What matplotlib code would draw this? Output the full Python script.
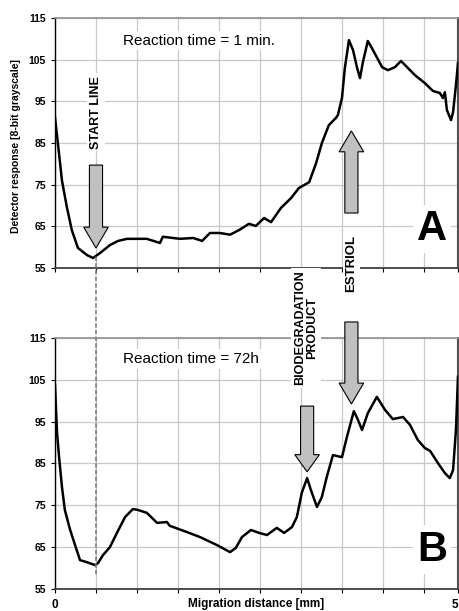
import numpy as np
import matplotlib
matplotlib.use('Agg')
import matplotlib.pyplot as plt
from matplotlib.patches import FancyArrow, ConnectionPatch

plt.rcParams['font.family'] = ['Liberation Sans', 'DejaVu Sans']

# scan position along lane (0 .. 983 points = 0 .. 5 mm)
xA = [0, 7, 17, 29, 41, 56, 78, 93, 110, 134, 154, 176, 224, 256, 263, 305, 337, 359,
      378, 402, 427, 449, 473, 490, 510, 527, 551, 576, 595, 620, 637, 651, 668, 685,
      690, 700, 707, 717, 727, 737, 744, 751, 763, 773, 785, 798, 812, 829, 844, 859,
      878, 902, 922, 939, 946, 951, 956, 966, 971, 978, 983]
yA = [91.2, 85, 76, 69.6, 64.1, 59.8, 58.1, 57.4, 58.6, 60.5, 61.5, 62, 62, 61, 62.5, 62,
      62.2, 61.5, 63.4, 63.4, 63, 64.1, 65.6, 65.1, 67, 66, 69.4, 71.8, 74.2, 75.6, 80.2,
      85, 89.3, 91, 91.7, 95.8, 103, 109.7, 107.3, 103, 100.6, 104.4, 109.5, 107.8,
      105.6, 103.2, 102.5, 103.2, 104.7, 103.2, 101.3, 99.4, 97.5, 97, 95.8, 97.2, 92.9,
      90.5, 92.4, 98.9, 104.2]

xB = [0, 5, 10, 17, 24, 37, 49, 61, 78, 98, 105, 117, 134, 151, 171, 190, 202, 224, 249,
      273, 280, 322, 354, 395, 427, 441, 456, 478, 498, 517, 541, 559, 578, 590, 602,
      615, 624, 639, 651, 663, 678, 700, 712, 729, 739, 749, 763, 785, 805, 824, 849,
      866, 885, 902, 915, 934, 951, 963, 971, 978, 983]
yB = [103.8, 92.3, 86.5, 79.4, 73.9, 69.1, 65.5, 61.9, 61.4, 60.7, 61.2, 63.1, 65, 68.4,
      72.2, 74.1, 73.9, 73.2, 70.8, 71, 70.1, 68.6, 67.4, 65.5, 63.8, 64.8, 67.4, 69.1,
      68.4, 67.9, 69.6, 68.4, 69.8, 72.2, 78, 81.5, 78.7, 74.6, 77, 81.8, 87, 86.5,
      91.3, 97.5, 95.4, 93, 97, 100.9, 97.8, 95.6, 96.1, 94.2, 90.6, 88.7, 88.0, 85.1,
      82.7, 81.5, 83.4, 93, 105.7]

xmax = 983
yticks = [55, 65, 75, 85, 95, 105, 115]
xgrid = [0, 100, 200, 300, 400, 500, 600, 700, 800, 900, 983]
xlabels = ['0', '', '', '', '', '', '', '', '', '', '5']

fig = plt.figure(figsize=(4.59, 6.11), dpi=100)
ax1 = fig.add_axes([0.1198, 0.5614, 0.878, 0.409])
ax2 = fig.add_axes([0.1198, 0.036, 0.878, 0.411])

for ax, xs, ys in [(ax1, xA, yA), (ax2, xB, yB)]:
    ax.plot(xs, ys, color='black', lw=1.8, zorder=3)
    ax.set_xlim(0, xmax)
    ax.set_ylim(55, 115)
    ax.set_yticks(yticks)
    ax.set_xticks(xgrid)
    ax.grid(True, color='#c8c8c8', lw=0.9)
    ax.set_axisbelow(True)
    ax.tick_params(axis='both', direction='out', length=3, width=0.8, colors='black',
                   labelsize=7.5)
    for lab in ax.get_yticklabels():
        lab.set_fontweight('bold')
    ax.spines['left'].set_color('black')
    ax.spines['left'].set_linewidth(1.0)
    ax.spines['bottom'].set_color('#404040')
    ax.spines['bottom'].set_linewidth(1.3)
    ax.spines['top'].set_color('#909090')
    ax.spines['top'].set_linewidth(1.2)
    ax.spines['right'].set_color('#505050')
    ax.spines['right'].set_linewidth(1.5)

ax1.set_xticklabels([])
ax2.set_xticklabels(xlabels, fontsize=8.5, fontweight='bold')
ax2.tick_params(axis='x', pad=4)
ax2.get_xticklabels()[-1].set_ha('right')

box = dict(facecolor='white', edgecolor='none', pad=2)

ax1.text(166, 109.6, 'Reaction time = 1 min.', fontsize=11, va='center', ha='left', bbox=box)
ax2.text(166, 110, 'Reaction time = 72h', fontsize=11, va='center', ha='left', bbox=box)

ax1.text(100, 92.4, 'START LINE', rotation=90, fontsize=9, fontweight='bold',
         ha='center', va='center', bbox=box)
ax1.text(723, 56.0, 'ESTRIOL', rotation=90, fontsize=9.5, fontweight='bold',
         ha='center', va='center', bbox=box, clip_on=False, zorder=6)
ax2.text(612, 117.4, 'BIODEGRADATION\nPRODUCT', rotation=90, fontsize=9, fontweight='bold',
         ha='center', va='center', bbox=box, clip_on=False, zorder=6, linespacing=1.0)

ax1.text(920, 64.4, 'A', fontsize=30, fontweight='bold', ha='center', va='center',
         bbox=dict(facecolor='white', edgecolor='none', pad=3))
ax2.text(920, 64.4, 'B', fontsize=30, fontweight='bold', ha='center', va='center',
         bbox=dict(facecolor='white', edgecolor='none', pad=3))

arrow_kw = dict(length_includes_head=True, facecolor='#c0c0c0', edgecolor='black',
                lw=0.8, zorder=5, clip_on=False)
ax1.add_patch(FancyArrow(100, 79.7, 0, -19.9, width=32, head_width=60, head_length=5.0,
                         **arrow_kw))
ax1.add_patch(FancyArrow(723, 68.2, 0, 19.7, width=32, head_width=60, head_length=5.0,
                         **arrow_kw))
ax2.add_patch(FancyArrow(723, 118.8, 0, -19.6, width=32, head_width=60, head_length=5.0,
                         **arrow_kw))
ax2.add_patch(FancyArrow(615, 98.7, 0, -15.7, width=32, head_width=60, head_length=4.1,
                         **arrow_kw))

con = ConnectionPatch(xyA=(100, 57.6), coordsA=ax1.transData,
                      xyB=(100, 57.9), coordsB=ax2.transData,
                      color='#808080', lw=1.2, linestyle=(0, (2, 2)), zorder=4)
fig.add_artist(con)

fig.text(16 / 459, 1 - 146 / 611, 'Detector response [8-bit grayscale]', rotation=90,
         fontsize=7.5, fontweight='bold', ha='center', va='center')
fig.text(256 / 459, 1 - 604 / 611, 'Migration distance [mm]', fontsize=8.5,
         fontweight='bold', ha='center', va='center')

fig.savefig('out.png', dpi=100)
